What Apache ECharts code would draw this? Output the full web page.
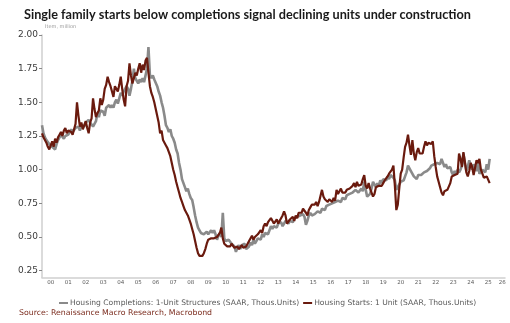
<!DOCTYPE html>
<html>
<head>
<meta charset="utf-8">
<script src="https://cdn.jsdelivr.net/npm/echarts@6/dist/echarts.min.js"></script>
<style>
  html, body { margin: 0; padding: 0; background: #ffffff; }
  #chart { width: 510px; height: 323px; }
</style>
</head>
<body>
<div id="chart"></div>
<script>
// Monthly series, millions of units (SAAR), January 2000 onward
const firstYear = 2000;

const completions = [
  // 2000
  1.33, 1.27, 1.24, 1.22, 1.21, 1.19, 1.18, 1.17, 1.16, 1.15, 1.19, 1.22,
  // 2001
  1.24, 1.26, 1.27, 1.23, 1.25, 1.24, 1.26, 1.27, 1.30, 1.28, 1.29, 1.31,
  // 2002
  1.31, 1.32, 1.29, 1.33, 1.34, 1.32, 1.35, 1.34, 1.37, 1.35, 1.36, 1.32,
  // 2003
  1.32, 1.36, 1.42, 1.39, 1.44, 1.45, 1.43, 1.40, 1.46, 1.47, 1.48, 1.46,
  // 2004
  1.48, 1.46, 1.50, 1.52, 1.49, 1.53, 1.57, 1.55, 1.58, 1.60, 1.62, 1.60,
  // 2005
  1.55, 1.60, 1.66, 1.75, 1.68, 1.66, 1.64, 1.67, 1.65, 1.68, 1.65, 1.66,
  // 2006
  1.75, 1.91, 1.70, 1.68, 1.70, 1.67, 1.68, 1.62, 1.58, 1.55, 1.50, 1.46,
  // 2007
  1.40, 1.33, 1.31, 1.28, 1.30, 1.25, 1.23, 1.20, 1.15, 1.12, 1.05, 1.00,
  // 2008
  0.93, 0.90, 0.87, 0.84, 0.86, 0.82, 0.79, 0.775, 0.72, 0.66, 0.61, 0.57,
  // 2009
  0.55, 0.53, 0.52, 0.52, 0.53, 0.54, 0.52, 0.53, 0.55, 0.53, 0.55, 0.52,
  // 2010
  0.48, 0.51, 0.53, 0.50, 0.68, 0.49, 0.47, 0.46, 0.48, 0.47, 0.45, 0.44,
  // 2011
  0.43, 0.39, 0.42, 0.44, 0.41, 0.44, 0.43, 0.45, 0.41, 0.40, 0.43, 0.46,
  // 2012
  0.44, 0.48, 0.45, 0.47, 0.49, 0.50, 0.48, 0.52, 0.50, 0.53, 0.54, 0.52,
  // 2013
  0.55, 0.58, 0.56, 0.58, 0.59, 0.57, 0.60, 0.59, 0.61, 0.58, 0.60, 0.62,
  // 2014
  0.61, 0.60, 0.62, 0.63, 0.61, 0.64, 0.63, 0.65, 0.64, 0.66, 0.65, 0.67,
  // 2015
  0.65, 0.59, 0.62, 0.66, 0.68, 0.66, 0.65, 0.67, 0.66, 0.69, 0.70, 0.68,
  // 2016
  0.71, 0.72, 0.70, 0.73, 0.72, 0.74, 0.73, 0.75, 0.74, 0.76, 0.75, 0.77,
  // 2017
  0.775, 0.76, 0.79, 0.80, 0.78, 0.81, 0.80, 0.82, 0.81, 0.83, 0.84, 0.85,
  // 2018
  0.85, 0.83, 0.82, 0.86, 0.84, 0.91, 0.85, 0.80, 0.79, 0.82, 0.86, 0.91,
  // 2019
  0.90, 0.87, 0.90, 0.88, 0.92, 0.90, 0.93, 0.94, 0.92, 0.95, 0.93, 0.96,
  // 2020
  0.96, 0.94, 0.92, 0.85, 0.87, 0.89, 0.91, 0.90, 0.92, 0.95, 0.98, 1.03,
  // 2021
  1.03, 0.99, 0.98, 0.95, 0.94, 0.93, 0.96, 0.97, 0.96, 0.97, 0.98, 0.99,
  // 2022
  0.99, 1.00, 1.01, 1.03, 1.02, 1.04, 1.03, 1.05, 1.06, 1.04, 1.08, 1.05,
  // 2023
  1.02, 1.04, 1.01, 1.00, 1.02, 0.98, 0.96, 0.99, 0.97, 1.00, 0.98, 1.00,
  // 2024
  1.03, 1.12, 1.05, 0.99, 1.02, 1.07, 1.03, 1.00, 1.04, 1.02, 0.99, 1.05,
  // 2025
  0.97, 0.96, 1.00, 1.01, 0.98, 1.04, 1.00, 1.08
];

const starts = [
  // 2000
  1.27, 1.24, 1.22, 1.20, 1.17, 1.15, 1.18, 1.21, 1.17, 1.23, 1.20, 1.24,
  // 2001
  1.26, 1.28, 1.25, 1.29, 1.31, 1.27, 1.29, 1.30, 1.28, 1.26, 1.30, 1.34,
  // 2002
  1.50, 1.40, 1.32, 1.35, 1.30, 1.33, 1.36, 1.31, 1.27, 1.35, 1.38, 1.53,
  // 2003
  1.45, 1.39, 1.42, 1.44, 1.53, 1.48, 1.52, 1.60, 1.63, 1.69, 1.65, 1.62,
  // 2004
  1.58, 1.54, 1.62, 1.60, 1.58, 1.63, 1.69, 1.60, 1.52, 1.47, 1.62, 1.66,
  // 2005
  1.79, 1.70, 1.64, 1.68, 1.72, 1.70, 1.75, 1.79, 1.72, 1.78, 1.74, 1.81,
  // 2006
  1.83, 1.72, 1.62, 1.57, 1.54, 1.50, 1.45, 1.40, 1.35, 1.27, 1.29, 1.22,
  // 2007
  1.22, 1.18, 1.16, 1.13, 1.10, 1.05, 1.00, 0.96, 0.91, 0.87, 0.83, 0.79,
  // 2008
  0.76, 0.73, 0.70, 0.68, 0.66, 0.63, 0.60, 0.56, 0.52, 0.47, 0.42, 0.38,
  // 2009
  0.36, 0.355, 0.36, 0.38, 0.41, 0.45, 0.48, 0.49, 0.49, 0.48, 0.49, 0.50,
  // 2010
  0.50, 0.51, 0.53, 0.57, 0.49, 0.45, 0.44, 0.43, 0.44, 0.43, 0.45, 0.44,
  // 2011
  0.42, 0.41, 0.43, 0.41, 0.42, 0.44, 0.42, 0.41, 0.43, 0.44, 0.47, 0.46,
  // 2012
  0.51, 0.48, 0.50, 0.49, 0.52, 0.53, 0.55, 0.53, 0.58, 0.60, 0.58, 0.61,
  // 2013
  0.62, 0.64, 0.62, 0.60, 0.61, 0.63, 0.60, 0.62, 0.63, 0.66, 0.69, 0.66,
  // 2014
  0.60, 0.60, 0.63, 0.64, 0.65, 0.62, 0.66, 0.64, 0.68, 0.69, 0.68, 0.71,
  // 2015
  0.71, 0.68, 0.66, 0.70, 0.72, 0.74, 0.75, 0.74, 0.76, 0.73, 0.76, 0.77,
  // 2016
  0.85, 0.80, 0.78, 0.77, 0.76, 0.78, 0.77, 0.76, 0.79, 0.77, 0.85, 0.82,
  // 2017
  0.82, 0.86, 0.83, 0.84, 0.83, 0.85, 0.84, 0.86, 0.85, 0.88, 0.90, 0.87,
  // 2018
  0.91, 0.88, 0.87, 0.89, 0.93, 0.96, 0.88, 0.86, 0.90, 0.86, 0.83, 0.80,
  // 2019
  0.82, 0.87, 0.86, 0.88, 0.87, 0.88, 0.90, 0.92, 0.92, 0.95, 0.97, 0.98,
  // 2020
  1.00, 1.03, 0.88, 0.70, 0.74, 0.86, 0.97, 1.00, 1.09, 1.17, 1.20, 1.26,
  // 2021
  1.18, 1.11, 1.22, 1.12, 1.07, 1.13, 1.16, 1.12, 1.13, 1.12, 1.17, 1.21,
  // 2022
  1.18, 1.20, 1.20, 1.19, 1.21, 1.10, 1.02, 0.95, 0.91, 0.87, 0.83, 0.81,
  // 2023
  0.84, 0.83, 0.85, 0.85, 0.90, 0.95, 0.95, 0.96, 0.97, 0.97, 1.12, 1.08,
  // 2024
  1.02, 1.13, 1.06, 0.98, 0.95, 0.99, 1.05, 1.02, 0.96, 0.97, 1.07, 1.05,
  // 2025
  1.08, 1.00, 0.97, 0.94, 0.93, 0.95, 0.94, 0.90
];

const yTicks = [0.25, 0.50, 0.75, 1.00, 1.25, 1.50, 1.75, 2.00];
const yearLabels = ['00','01','02','03','04','05','06','07','08','09','10','11','12',
                    '13','14','15','16','17','18','19','20','21','22','23','24','25','26'];

const seriesNames = [
  'Housing Completions: 1-Unit Structures (SAAR, Thous.Units)',
  'Housing Starts: 1 Unit (SAAR, Thous.Units)'
];

const toPoints = arr => arr.map((v, i) => [firstYear + i / 12, v]);

// year labels sit in the middle of each year; the last one is pulled inside the axis
const labelPositions = yearLabels.map((_, i) => i < yearLabels.length - 1 ? firstYear + i + 0.5 : firstYear + i + 0.3);
const xMax = 2026.46;

const chart = echarts.init(document.getElementById('chart'), null, { renderer: 'canvas' });

chart.setOption({
  animation: false,
  backgroundColor: '#ffffff',
  title: {
    text: 'Single family starts below completions signal declining units under construction',
    left: 19, top: 3,
    textStyle: { fontFamily: 'Lato', fontWeight: 'bold', fontSize: 12.7, color: '#1a1a1a' }
  },
  graphic: [
    { type: 'text', left: 45, top: 24,
      style: { text: 'Item, million', fontFamily: 'DejaVu Sans', fontSize: 5, fill: '#9a9a9a' } },
    { type: 'text', left: 19, top: 309,
      style: { text: 'Source: Renaissance Macro Research, Macrobond', fontFamily: 'DejaVu Sans',
               fontSize: 7.8, fill: '#7a2a1c' } }
  ],
  legend: {
    data: seriesNames,
    left: 54, top: 294,
    itemWidth: 9, itemHeight: 2, itemGap: 4,
    icon: 'rect',
    textStyle: { fontFamily: 'DejaVu Sans', fontSize: 7.6, color: '#5a5a5a', padding: [0, 0, 0, -3] }
  },
  grid: { left: 42, right: 5, top: 35, bottom: 45.6, containLabel: false },
  xAxis: {
    type: 'value',
    min: firstYear, max: xMax,
    axisLine: { show: true, lineStyle: { color: '#cfcfcf', width: 1.5 } },
    axisTick: { show: false },
    splitLine: { show: false },
    axisLabel: {
      customValues: labelPositions,
      formatter: v => yearLabels[Math.floor(v) - firstYear],
      fontFamily: 'DejaVu Sans', fontSize: 5.5, color: '#5a5a5a', margin: 2
    }
  },
  yAxis: {
    type: 'value',
    min: 0.2, max: 2.0,
    axisLine: { show: true, lineStyle: { color: '#cfcfcf', width: 1.5 } },
    axisTick: { show: true, customValues: yTicks, length: 3, lineStyle: { color: '#888888' } },
    splitLine: { show: false },
    axisLabel: {
      customValues: yTicks,
      formatter: v => v.toFixed(2),
      fontFamily: 'DejaVu Sans', fontSize: 9, color: '#3a3a3a', margin: 4
    }
  },
  series: [
    {
      name: seriesNames[0], type: 'line', showSymbol: false,
      data: toPoints(completions),
      color: '#8a8a8a',
      lineStyle: { color: '#8a8a8a', width: 2.6 },
      z: 2
    },
    {
      name: seriesNames[1], type: 'line', showSymbol: false,
      data: toPoints(starts),
      color: '#6a1a0e',
      lineStyle: { color: '#6a1a0e', width: 2.2 },
      z: 3
    }
  ]
});
</script>
</body>
</html>
